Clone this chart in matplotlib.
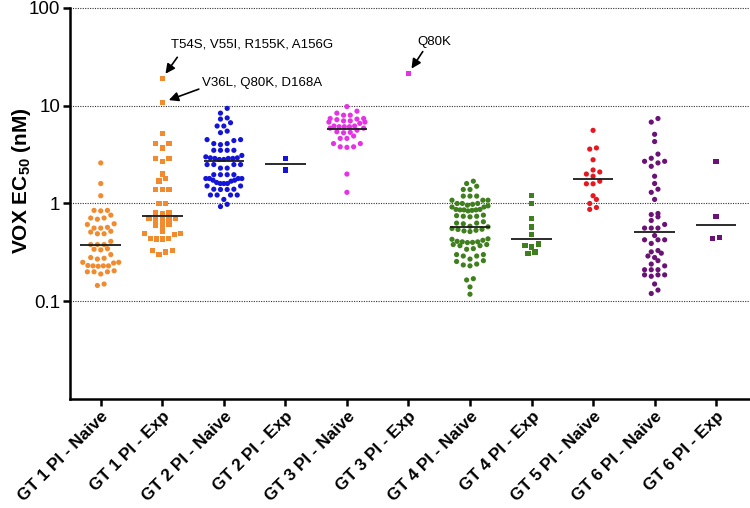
import numpy as np
import matplotlib
matplotlib.use("Agg")
import matplotlib.pyplot as plt

plt.rcParams['font.family'] = ['Liberation Sans', 'DejaVu Sans']
plt.rcParams['mathtext.fontset'] = 'custom'
plt.rcParams['mathtext.rm'] = 'Liberation Sans'
plt.rcParams['mathtext.bf'] = 'Liberation Sans:bold'

# ---------------- data (VOX EC50, nM) ----------------
categories = ['GT 1 PI - Naive', 'GT 1 PI - Exp', 'GT 2 PI - Naive', 'GT 2 PI - Exp',
              'GT 3 PI - Naive', 'GT 3 PI - Exp', 'GT 4 PI - Naive', 'GT 4 PI - Exp',
              'GT 5 PI - Naive', 'GT 6 PI - Naive', 'GT 6 PI - Exp']

gt1_naive = [2.6, 1.6, 1.2, 0.85, 0.84, 0.85, 0.76, 0.71, 0.69, 0.71, 0.62, 0.61,
             0.56, 0.57, 0.56, 0.51, 0.52, 0.49, 0.49, 0.41, 0.38, 0.38, 0.38,
             0.34, 0.335, 0.345, 0.30, 0.275, 0.27, 0.28, 0.25, 0.25, 0.246,
             0.23, 0.23, 0.228, 0.23, 0.232, 0.20, 0.20, 0.20, 0.205, 0.19,
             0.145, 0.15]
gt1_exp = [19.1, 10.8, 5.2, 4.1, 4.1, 3.7, 2.9, 2.9, 2.7, 2.0, 1.8, 1.7, 1.4, 1.4, 1.4,
           1.0, 1.0, 0.80, 0.79, 0.80, 0.71, 0.69, 0.68, 0.69, 0.71, 0.61, 0.59, 0.60,
           0.52, 0.49, 0.48, 0.49, 0.44, 0.435, 0.435, 0.44, 0.33, 0.32, 0.33, 0.30]
gt2_naive = [9.4, 8.4, 7.5, 7.3, 6.7, 6.2, 6.2, 5.5, 5.3, 4.5, 4.5, 4.4, 4.1, 4.1, 4.0,
             3.5, 3.5, 3.5, 3.5, 3.1, 2.93, 2.89, 2.89, 2.82, 2.82, 2.89, 2.93, 3.0,
             2.5, 2.5, 2.5, 2.5, 2.3, 2.3, 1.97, 1.97, 1.97, 1.97,
             1.80, 1.80, 1.73, 1.64, 1.60, 1.60, 1.60, 1.69, 1.73, 1.80, 1.80,
             1.51, 1.40, 1.39, 1.39, 1.40, 1.51, 1.22, 1.22, 1.22, 1.22, 1.1, 0.98, 0.93]
gt2_exp = [2.9, 2.2]
gt3_naive = [9.8, 8.8, 8.4, 8.0, 8.0, 7.4, 7.3, 7.0, 6.8, 6.6, 6.8, 7.0, 7.2, 7.4,
             5.9, 6.2, 6.1, 6.1, 6.2, 5.9, 6.1, 5.62, 5.42, 5.34, 5.29, 4.9, 4.63, 4.63,
             4.1, 4.1, 3.8, 3.75, 3.8, 2.0, 1.3]
gt3_exp = [21.5]
gt4_naive = [1.69, 1.60, 1.50, 1.39, 1.39, 1.19, 1.19, 1.19, 1.08, 1.08, 1.08,
             1.0, 0.98, 0.96, 1.0, 1.0, 0.945, 0.92, 0.92, 0.86, 0.86, 0.84, 0.87, 0.87,
             0.86, 0.85, 0.74, 0.75, 0.74, 0.73, 0.76, 0.63, 0.63, 0.62, 0.65,
             0.585, 0.555, 0.542, 0.524, 0.516, 0.532, 0.545, 0.577,
             0.43, 0.41, 0.405, 0.40, 0.398, 0.405, 0.42, 0.435, 0.38, 0.37, 0.38, 0.37,
             0.34, 0.345, 0.30, 0.29, 0.30, 0.29, 0.27, 0.26, 0.255, 0.24, 0.235, 0.23,
             0.17, 0.165, 0.14, 0.118]
gt4_exp = [1.2, 1.0, 0.70, 0.575, 0.48, 0.385, 0.37, 0.36, 0.32, 0.31]
gt5_naive = [5.6, 3.7, 3.6, 2.8, 2.2, 2.1, 2.0, 1.9, 1.69, 1.59, 1.59, 1.2, 1.1, 1.0,
             0.91, 0.87]
gt6_naive = [7.4, 6.8, 5.1, 4.3, 3.2, 2.9, 2.7, 2.7, 2.6, 2.4, 1.9, 1.6, 1.4, 1.3, 1.1,
             0.79, 0.77, 0.73, 0.67, 0.61, 0.56, 0.56, 0.56, 0.47, 0.425, 0.425, 0.425,
             0.39, 0.33, 0.32, 0.31, 0.29, 0.28, 0.26, 0.24, 0.23, 0.21, 0.21, 0.21,
             0.186, 0.186, 0.186, 0.18, 0.15, 0.13, 0.12]
gt6_exp = [2.7, 0.74, 0.45, 0.44]

medians = [0.38, 0.75, 2.7, 2.55, 5.8, None, 0.57, 0.43, 1.79, 0.51, 0.60]

series = [gt1_naive, gt1_exp, gt2_naive, gt2_exp, gt3_naive, gt3_exp,
          gt4_naive, gt4_exp, gt5_naive, gt6_naive, gt6_exp]
markers = ['o', 's', 'o', 's', 'o', 's', 'o', 's', 'o', 'o', 's']
colors = ['#F28A2E', '#F28A2E', '#1414D9', '#1414D9', '#E632E6', '#E632E6',
          '#3F7F1E', '#3F7F1E', '#E8161E', '#6B1277', '#6B1277']

# ---------------- figure ----------------
W, H, DPI = 7.5, 5.08, 100
AX = [0.0933, 0.2146, 0.9067, 0.7697]
fig = plt.figure(figsize=(W, H), dpi=DPI)
ax = fig.add_axes(AX)
ax.set_yscale('log')
ax.set_ylim(0.01, 100)
ax.set_xlim(-0.5, 10.55)

px_per_decade = AX[3] * H * DPI / 4.0
px_per_unit = AX[2] * W * DPI / 11.05


def row_scatter(vals, h=5.3, sp=6.7, wmax=36.0):
    """GraphPad-like scatter: group near-equal values into rows, spread rows."""
    v = np.asarray(vals, float)
    y = np.log10(v) * px_per_decade
    order = np.argsort(y, kind='stable')
    rows, cur = [], [order[0]]
    for idx in order[1:]:
        if y[idx] - y[cur[0]] <= h:
            cur.append(idx)
        else:
            rows.append(cur)
            cur = [idx]
    rows.append(cur)
    xs = np.zeros(len(v))
    for r in rows:
        n = len(r)
        s = sp if n <= 1 else min(sp, wmax / (n - 1))
        slots = (np.arange(n) - (n - 1) / 2.0) * s
        slot_order = np.argsort(np.abs(slots) + 1e-6 * np.arange(n), kind='stable')
        for k, idx in enumerate(r):
            xs[idx] = slots[slot_order[k]]
    return xs / px_per_unit


for i, (vals, m, c) in enumerate(zip(series, markers, colors)):
    off = row_scatter(vals)
    s = 14 if m == 'o' else 15
    ax.scatter(i + off, vals, marker=m, s=s, color=c, edgecolors='none', zorder=3)
    if medians[i] is not None:
        ax.plot([i - 0.33, i + 0.33], [medians[i], medians[i]], color='#1a1a1a',
                lw=1.3, zorder=4, solid_capstyle='butt')

# grid lines
for g in [0.1, 1, 10, 100]:
    ax.axhline(g, color='#333333', lw=0.8, ls=(0, (1, 1.2)), zorder=1, clip_on=False)

# axes styling
for sp_ in ['top', 'right']:
    ax.spines[sp_].set_visible(False)
for sp_ in ['left', 'bottom']:
    ax.spines[sp_].set_linewidth(1.8)
ax.set_yticks([0.1, 1, 10, 100])
ax.set_yticklabels(['0.1', '1', '10', '100'], fontsize=13.5)
ax.yaxis.set_minor_locator(matplotlib.ticker.NullLocator())
ax.tick_params(axis='y', which='major', length=5, width=1.8, direction='out', pad=2)
ax.set_xticks(range(len(categories)))
ax.set_xticklabels(categories, rotation=45, ha='right', rotation_mode='anchor',
                   fontsize=12.3, fontweight='bold')
ax.tick_params(axis='x', length=5, width=1.8, direction='out', pad=2)

ax.set_ylabel('VOX EC$_{\\mathbf{50}}$ (nM)', fontsize=15, fontweight='bold')
ax.yaxis.set_label_coords(-0.055, 0.5575)

# annotations
arrow = dict(arrowstyle='-|>', color='black', lw=1.2, mutation_scale=14,
             shrinkA=0, shrinkB=4)
ax.annotate('', xy=(1, gt1_exp[0]), xytext=(10.8, 15.1), textcoords='offset points',
            arrowprops=arrow)
ax.annotate('T54S, V55I, R155K, A156G', xy=(1, gt1_exp[0]), xytext=(6.5, 24.0),
            textcoords='offset points', ha='left', va='center', fontsize=9.5)
arrow2 = dict(arrow, shrinkB=5)
ax.annotate('', xy=(1, gt1_exp[1]), xytext=(26.3, 9.6), textcoords='offset points',
            arrowprops=arrow2)
ax.annotate('V36L, Q80K, D168A', xy=(1, gt1_exp[1]), xytext=(28.8, 13.8),
            textcoords='offset points', ha='left', va='center', fontsize=9.5)
ax.annotate('', xy=(5, gt3_exp[0]), xytext=(10.3, 15.6), textcoords='offset points',
            arrowprops=arrow)
ax.annotate('Q80K', xy=(5, gt3_exp[0]), xytext=(6.5, 22.2),
            textcoords='offset points', ha='left', va='center', fontsize=9.5)

fig.savefig('out.png', dpi=DPI)
